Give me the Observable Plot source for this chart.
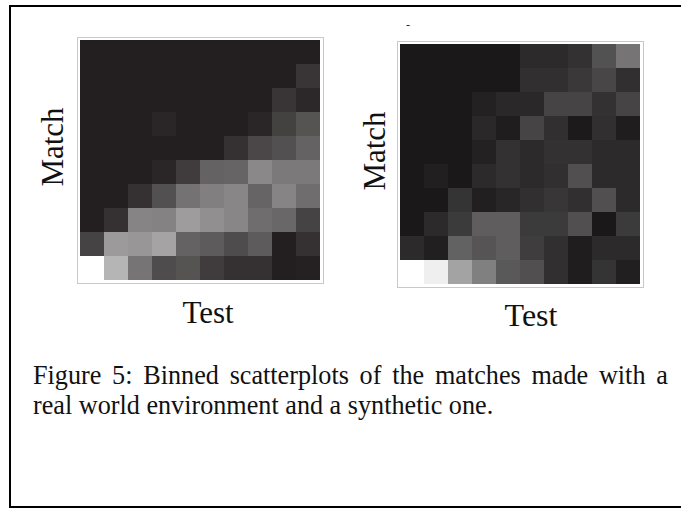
<!DOCTYPE html>
<html>
<head>
<meta charset="utf-8">
<script src="https://cdn.jsdelivr.net/npm/d3@7"></script>
<script src="https://cdn.jsdelivr.net/npm/@observablehq/plot@0.6"></script>
<style>
  html, body { margin: 0; padding: 0; background: #fff; overflow: hidden; }
  #page { position: relative; width: 681px; height: 508px; overflow: hidden;
          font-family: "Liberation Serif", "Times New Roman", serif; color: #111; }
  .rule { position: absolute; background: #000; }
  .lbl { position: absolute; white-space: nowrap; line-height: 1; transform-origin: center; }
  .plot { position: absolute; }
  .cap { position: absolute; left: 33px; white-space: nowrap; font-size: 28px; line-height: 1;
         transform-origin: left top; transform: scaleX(0.935); }
</style>
</head>
<body>
<div id="page">
  <div class="rule" style="left:9px;top:5px;width:672px;height:2px"></div>
  <div class="rule" style="left:9px;top:5px;width:2px;height:503px"></div>
  <div class="rule" style="left:9px;top:506px;width:672px;height:2px"></div>
  <div id="left" class="plot" style="left:77px;top:37px"></div>
  <div id="right" class="plot" style="left:397px;top:41px"></div>
  <div class="lbl" style="left:52px;top:147px;font-size:31px;transform:translate(-50%,-50%) rotate(-90deg)">Match</div>
  <div class="lbl" style="left:374px;top:151px;font-size:31px;transform:translate(-50%,-50%) rotate(-90deg)">Match</div>
  <div class="lbl" style="left:208px;top:312px;font-size:31px;transform:translate(-50%,-50%)">Test</div>
  <div class="lbl" style="left:531px;top:315px;font-size:32px;transform:translate(-50%,-50%)">Test</div>
  <div class="lbl" style="left:408px;top:25px;font-size:12px;color:#223;transform:translate(-50%,-50%)">-</div>
  <div class="cap" style="top:361px;width:679px;text-align:justify;text-align-last:justify">Figure 5: Binned scatterplots of the matches made with a</div>
  <div class="cap" style="top:391px">real world environment and a synthetic one.</div>
</div>
<script>
// Bin intensities (0 = empty bin, 1 = fullest bin); rows listed from top (high Match) to bottom.
const bins = [0,1,2,3,4,5,6,7,8,9];
const realRows = [
  [0,0,0,0,0,0,0,0,0,0],
  [0,0,0,0,0,0,0,0,0,0.10],
  [0,0,0,0,0,0,0,0,0.10,0.04],
  [0,0,0,0.03,0,0,0,0.03,0.15,0.23],
  [0,0,0,0,0,0,0.08,0.18,0.22,0.30],
  [0,0,0,0.03,0.13,0.30,0.31,0.47,0.40,0.40],
  [0,0,0.08,0.22,0.37,0.43,0.46,0.31,0.45,0.35],
  [0,0.08,0.45,0.44,0.56,0.50,0.46,0.35,0.32,0.16],
  [0.16,0.55,0.53,0.59,0.30,0.27,0.20,0.27,0,0.08],
  [1,0.67,0.38,0.20,0.23,0.13,0.08,0.08,0,0.01]
];
const synthRows = [
  [0,0,0,0,0,0.08,0.08,0.11,0.25,0.40],
  [0,0,0,0,0,0.10,0.10,0.14,0.20,0.10],
  [0,0,0,0.04,0.07,0.07,0.19,0.19,0.11,0.19],
  [0,0,0,0.07,0.02,0.19,0.10,0.01,0.10,0.02],
  [0,0,0,0.04,0.11,0.08,0.11,0.11,0.08,0.08],
  [0,0.03,0,0.08,0.11,0.08,0.10,0.24,0.08,0.08],
  [0,0,0.12,0.03,0.06,0.10,0.13,0.10,0.24,0.08],
  [0,0.08,0.15,0.30,0.30,0.15,0.15,0.24,0,0.15],
  [0.08,0.03,0.32,0.26,0.30,0.16,0.10,0.02,0.08,0.08],
  [1,0.93,0.60,0.45,0.28,0.24,0.10,0.02,0.12,0.03]
];

function toCells(rows) {
  const out = [];
  rows.forEach((r, i) => r.forEach((v, j) => out.push({test: bins[j], match: bins[9 - i], v})));
  return out;
}

function heat(rows, dark) {
  return Plot.plot({
    width: 246, height: 246,
    margin: 0,
    x: {type: "band", domain: bins, padding: 0, axis: null},
    y: {type: "band", domain: bins.slice().reverse(), padding: 0, axis: null},
    color: {type: "linear", domain: [0, 1], range: [dark, "#ffffff"], interpolate: "rgb"},
    style: {background: "transparent", overflow: "visible"},
    marks: [
      Plot.cell(toCells(rows), {x: "test", y: "match", fill: "v", inset: 0, shapeRendering: "crispEdges"}),
      Plot.frame({stroke: "#c8c8c8", strokeWidth: 1})
    ]
  });
}

document.getElementById("left").appendChild(heat(realRows, "#231f20"));
document.getElementById("right").appendChild(heat(synthRows, "#1a1818"));
</script>
</body>
</html>
